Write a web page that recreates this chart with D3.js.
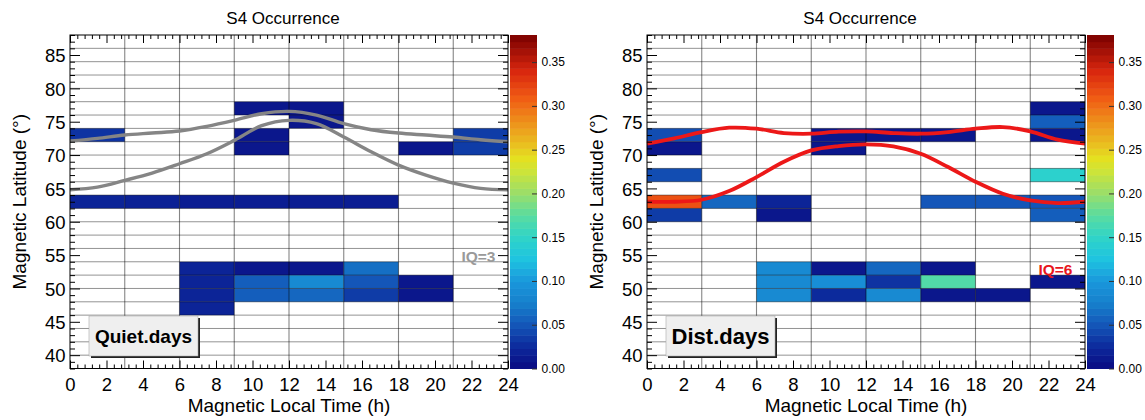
<!DOCTYPE html>
<html>
<head>
<meta charset="utf-8">
<script src="https://cdn.jsdelivr.net/npm/d3@7"></script>
<style>
  body { margin: 0; background: #fff; }
  text { font-family: "Liberation Sans", Arial, Helvetica, sans-serif; }
</style>
</head>
<body>
<svg id="chart" width="1145" height="420"></svg>
<script>
// magnetic local time bins (3 h) and latitude bins (2 deg)
const mltBins = [0, 3, 6, 9, 12, 15, 18, 21];
const latRange = [38, 88];
const zMax = 0.381;

// cells: [MLT bin start, latitude bin start, S4 occurrence]
const quietCells = [
    [0, 72, 0.03],
    [9, 76, 0.01], [9, 72, 0.01], [9, 70, 0.01],
    [12, 76, 0.01], [12, 74, 0.01],
    [18, 70, 0.01],
    [21, 72, 0.035], [21, 70, 0.035],
    [0, 62, 0.02], [3, 62, 0.018], [6, 62, 0.015], [9, 62, 0.015], [12, 62, 0.015], [15, 62, 0.015],
    [6, 52, 0.02], [6, 50, 0.02], [6, 48, 0.02], [6, 46, 0.02],
    [9, 52, 0.01], [9, 50, 0.055], [9, 48, 0.055],
    [12, 52, 0.01], [12, 50, 0.085], [12, 48, 0.06],
    [15, 52, 0.065], [15, 50, 0.05], [15, 48, 0.035],
    [18, 50, 0.01], [18, 48, 0.01]
];

const distCells = [
    [0, 72, 0.045], [0, 70, 0.01], [0, 66, 0.045], [0, 62, 0.315], [0, 60, 0.035],
    [3, 62, 0.06],
    [6, 62, 0.02], [6, 60, 0.01],
    [9, 72, 0.01], [9, 70, 0.01],
    [12, 72, 0.01],
    [15, 72, 0.01],
    [15, 62, 0.05], [18, 62, 0.05],
    [21, 76, 0.01], [21, 74, 0.055], [21, 72, 0.01], [21, 66, 0.145], [21, 62, 0.05], [21, 60, 0.055],
    [6, 52, 0.085], [6, 50, 0.085], [6, 48, 0.085],
    [9, 52, 0.01], [9, 50, 0.09], [9, 48, 0.025],
    [12, 52, 0.06], [12, 50, 0.03], [12, 48, 0.085],
    [15, 52, 0.01], [15, 50, 0.17], [15, 48, 0.01],
    [18, 48, 0.01],
    [21, 50, 0.01]
];

// oval boundaries, sampled every 1.5 h
const curveMlt = [0, 1.5, 3, 4.5, 6, 7.5, 9, 10.5, 12, 13.5, 15, 16.5, 18, 19.5, 21, 22.5, 24];
const quietUpper = [72.1, 72.5, 73.0, 73.3, 73.6, 74.3, 75.2, 76.2, 76.55, 76.0, 74.7, 73.8, 73.3, 73.0, 72.7, 72.3, 72.0];
const quietLower = [64.8, 65.2, 66.2, 67.3, 68.7, 70.2, 72.2, 74.4, 75.2, 74.7, 72.7, 70.5, 68.5, 67.0, 65.8, 65.0, 64.8];
const distUpper = [71.7, 72.5, 73.45, 74.1, 73.95, 73.3, 73.2, 73.5, 73.55, 73.3, 73.2, 73.45, 73.95, 74.2, 73.55, 72.3, 71.7];
const distLower = [63.0, 63.0, 63.3, 64.6, 66.7, 69.0, 70.7, 71.35, 71.6, 71.3, 70.2, 68.2, 66.0, 64.2, 63.2, 62.8, 63.0];

// tick values
const xMajor = d3.range(0, 24.01, 2);
const xMinor = d3.range(0, 24.01, 0.4).filter(v => Math.abs(v / 2 - Math.round(v / 2)) > 0.01);
const yMajor = d3.range(40, 86, 5);
const yMinor = d3.range(38, 88.5, 1).filter(v => v % 5 !== 0);
const zTicks = [0, 0.05, 0.10, 0.15, 0.20, 0.25, 0.30, 0.35];

// colour palette (rainbow, like ROOT)
const paletteStops = [0, 0.025, 0.05, 0.075, 0.10, 0.125, 0.15, 0.175, 0.20, 0.225, 0.24, 0.26, 0.285, 0.31, 0.34, 0.381];
const paletteColors = ["#0a0a82", "#0c2a9c", "#1456b8", "#1680cc", "#1a98dc", "#1ec4e0", "#30d4c8", "#5adca0",
                       "#9ade6a", "#cce43a", "#e4e020", "#eab820", "#ee8a1a", "#f05a14", "#d8260e", "#7a0000"];

const color = d3.scaleLinear()
    .domain(paletteStops)
    .range(paletteColors)
    .interpolate(d3.interpolateRgb);

const svg = d3.select("#chart");

const top_y = 35, bottom_y = 368.5, plot_w = 438;

function draw_panel(offset, cells, upper, lower, curveColor, curveWidth, label, labelSize, iq, iqColor, iqY)
{
    const x0 = 70 + offset;
    const x = d3.scaleLinear().domain([0, 24]).range([x0, x0 + plot_w]);
    const y = d3.scaleLinear().domain(latRange).range([bottom_y, top_y]);
    const g = svg.append("g");

    // cells
    g.selectAll(".cell")
        .data(cells)
        .enter().append("rect")
        .attr("class", "cell")
        .attr("x", d => x(d[0]))
        .attr("width", d => x(d[0] + 3) - x(d[0]))
        .attr("y", d => y(d[1] + 2))
        .attr("height", d => y(d[1]) - y(d[1] + 2))
        .attr("fill", d => color(d[2]));

    // grid (drawn over the cells, darker on the filled bins)
    g.selectAll(".hgrid")
        .data(d3.range(latRange[0] + 2, latRange[1], 2))
        .enter().append("line")
        .attr("x1", x(0)).attr("x2", x(24))
        .attr("y1", d => y(d)).attr("y2", d => y(d))
        .attr("stroke", "#000").attr("stroke-opacity", 0.48).attr("stroke-width", 0.9);
    g.selectAll(".vgrid")
        .data(mltBins.slice(1))
        .enter().append("line")
        .attr("x1", d => x(d)).attr("x2", d => x(d))
        .attr("y1", top_y).attr("y2", bottom_y)
        .attr("stroke", "#000").attr("stroke-opacity", 0.48).attr("stroke-width", 1.1);

    // oval curves
    const line = d3.line()
        .x((d, i) => x(curveMlt[i]))
        .y(d => y(d))
        .curve(d3.curveCatmullRom.alpha(0.5));
    [upper, lower].forEach(function(c) {
        g.append("path")
            .attr("d", line(c))
            .attr("fill", "none")
            .attr("stroke", curveColor)
            .attr("stroke-width", curveWidth);
    });

    // axes, ticks pointing inwards on all four sides
    const axes = [
        [d3.axisBottom(x), "translate(0," + bottom_y + ")", xMajor, xMinor, -8, -4],
        [d3.axisTop(x), "translate(0," + top_y + ")", xMajor, xMinor, -8, -4],
        [d3.axisLeft(y), "translate(" + x0 + ",0)", yMajor, yMinor, -10, -5],
        [d3.axisRight(y), "translate(" + (x0 + plot_w) + ",0)", yMajor, yMinor, -10, -5]
    ];
    axes.forEach(function(a, i) {
        const minor = g.append("g").attr("transform", a[1])
            .call(a[0].tickValues(a[3]).tickSize(a[5]).tickFormat(""));
        minor.select(".domain").remove();
        const major = g.append("g").attr("transform", a[1])
            .call(a[0].tickValues(a[2]).tickSize(a[4]).tickFormat(d3.format("d")));
        major.select(".domain").remove();
        if(i === 0) {
            major.selectAll("text").attr("font-size", 18.5).attr("fill", "#000")
                .attr("y", 9).attr("dy", "0.71em");
        } else if(i === 2) {
            major.selectAll("text").attr("font-size", 18.5).attr("fill", "#000")
                .attr("x", -4.5).attr("dy", "0.36em");
        } else {
            major.selectAll("text").remove();
        }
        g.selectAll(".tick line").attr("stroke", "#000");
    });

    // frame
    g.append("rect")
        .attr("x", x0).attr("y", top_y)
        .attr("width", plot_w).attr("height", bottom_y - top_y)
        .attr("fill", "none").attr("stroke", "#000").attr("stroke-width", 1);

    // colour bar
    const cb_x = x0 + plot_w + 2, cb_w = 27;
    const z = d3.scaleLinear().domain([0, zMax]).range([bottom_y, top_y]);
    const nBands = 50;
    g.selectAll(".band")
        .data(d3.range(nBands))
        .enter().append("rect")
        .attr("x", cb_x).attr("width", cb_w)
        .attr("y", d => z((d + 1) * zMax / nBands))
        .attr("height", d => z(d * zMax / nBands) - z((d + 1) * zMax / nBands) + 0.5)
        .attr("fill", d => color((d + 0.5) * zMax / nBands));
    const zAxis = g.append("g")
        .attr("transform", "translate(" + (cb_x + cb_w) + ",0)")
        .call(d3.axisRight(z).tickValues(zTicks).tickSize(-5).tickPadding(4.5).tickFormat(d3.format(".2f")));
    zAxis.select(".domain").remove();
    zAxis.selectAll(".tick line").attr("stroke", "#333");
    zAxis.selectAll("text").attr("font-size", 12).attr("fill", "#000");

    // titles
    svg.append("text")
        .attr("x", 283 + offset).attr("y", 24)
        .attr("text-anchor", "middle").attr("font-size", 17)
        .text("S4 Occurrence");
    svg.append("text")
        .attr("x", x0 + plot_w / 2).attr("y", 412)
        .attr("text-anchor", "middle").attr("font-size", 19)
        .text("Magnetic Local Time (h)");
    svg.append("text")
        .attr("transform", "translate(" + (26 + offset) + "," + ((top_y + bottom_y) / 2) + ") rotate(-90)")
        .attr("text-anchor", "middle").attr("font-size", 19)
        .text("Magnetic Latitude (\u00b0)");

    // label box with shadow
    const bx = x0 + 19, by = 316, bw = 109, bh = 40;
    svg.append("rect").attr("x", bx + 2).attr("y", by + 2)
        .attr("width", bw).attr("height", bh).attr("fill", "#222");
    svg.append("rect").attr("x", bx).attr("y", by)
        .attr("width", bw).attr("height", bh)
        .attr("fill", "#efefef").attr("stroke", "#aaa").attr("stroke-width", 0.6);
    svg.append("text")
        .attr("x", bx + bw / 2).attr("y", by + bh / 2)
        .attr("dy", "0.36em")
        .attr("text-anchor", "middle").attr("font-size", labelSize).attr("font-weight", "bold")
        .text(label);

    // IQ label
    svg.append("text")
        .attr("x", x0 + 425.5).attr("y", iqY)
        .attr("text-anchor", "end").attr("font-size", 15.5).attr("font-weight", "bold")
        .attr("fill", iqColor)
        .text(iq);
}

draw_panel(0, quietCells, quietUpper, quietLower, "#858585", 3.4, "Quiet.days", 19, "IQ=3", "#9a9a9a", 261.5);
draw_panel(577, distCells, distUpper, distLower, "#ec1818", 3.8, "Dist.days", 22, "IQ=6", "#e8141c", 275);
</script>
</body>
</html>
